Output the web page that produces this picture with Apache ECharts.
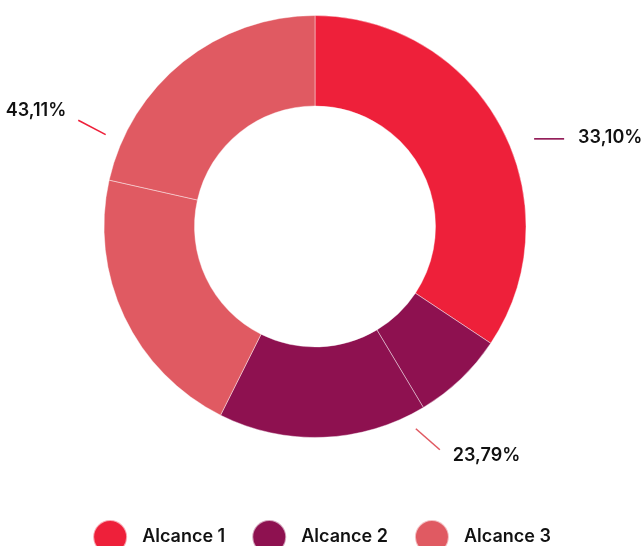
<!DOCTYPE html>
<html>
<head>
<meta charset="utf-8">
<script src="https://cdn.jsdelivr.net/npm/echarts@6/dist/echarts.min.js"></script>
<style>
html,body{margin:0;padding:0;background:#fff;}
#chart{width:643px;height:546px;}
</style>
</head>
<body>
<div id="chart"></div>
<script>
// ---- data ----
const categories = ['Alcance 1', 'Alcance 2', 'Alcance 3'];
const groupColors = ['#EE203A', '#8E1150', '#E05A62'];
const sliceGroups = [0, 1, 1, 2, 2];
const sliceValues = [34.33, 7.08, 15.97, 21.14, 21.47];
const labelValues = [33.10, 23.79, 43.11];
const labelSlices = [0, 2, 3];
const labelLineColors = ['#8E1150', '#E05A62', '#EE203A'];

// ---- layout ----
const CX = 315, CY = 226.5;
const FONT = 'Inter';
const labelPlace = [
  {angle: 68.2, r: 236, ex: 30, ey: 0, tx: 14, ty: -1.5, align: 'left'},
  {angle: 153.5, r: 226, ex: 24, ey: 21, tx: 13, ty: 6, align: 'left'},
  {angle: 293.7, r: 228.6, ex: -27.4, ey: -14.3, tx: -12, ty: -9.5, align: 'right'}
];

function fmt(v) { return v.toFixed(2).replace('.', ',') + '%'; }

const data = sliceValues.map(function (v, i) {
  const g = sliceGroups[i];
  const li = labelSlices.indexOf(i);
  const item = {
    name: categories[g],
    value: v,
    itemStyle: {color: groupColors[g]}
  };
  if (li >= 0) {
    item.label = {show: true, formatter: fmt(labelValues[li])};
    item.labelLine = {show: true, lineStyle: {color: labelLineColors[li], width: 1.6}};
  } else {
    item.label = {show: false};
    item.labelLine = {show: false};
  }
  return item;
});

const chart = echarts.init(document.getElementById('chart'), null, {renderer: 'canvas'});
chart.setOption({
  animation: false,
  backgroundColor: '#ffffff',
  legend: {
    data: categories,
    left: 'center',
    top: 514,
    icon: 'circle',
    itemWidth: 34,
    itemHeight: 34,
    itemGap: 26,
    textStyle: {fontFamily: FONT, fontSize: 18, fontWeight: 600, color: '#111', padding: [0, 0, 0, 10]}
  },
  series: [{
    type: 'pie',
    center: [CX, CY],
    radius: [120.5, 211],
    startAngle: 90,
    clockwise: true,
    avoidLabelOverlap: false,
    silent: true,
    itemStyle: {borderColor: 'rgba(255,255,255,0.6)', borderWidth: 0.7},
    label: {
      show: false,
      fontFamily: FONT,
      fontSize: 18,
      fontWeight: 600,
      color: '#111'
    },
    labelLine: {show: false},
    emphasis: {disabled: true},
    labelLayout: function (p) {
      const gi = labelSlices.indexOf(p.dataIndex);
      if (gi < 0) return {};
      const L = labelPlace[gi];
      const a = L.angle * Math.PI / 180;
      const x0 = CX + L.r * Math.sin(a), y0 = CY - L.r * Math.cos(a);
      const x1 = x0 + L.ex, y1 = y0 + L.ey;
      return {
        x: x1 + L.tx,
        y: y1 + L.ty,
        align: L.align,
        verticalAlign: 'middle',
        labelLinePoints: [[x0, y0], [x1, y1], [x1, y1]]
      };
    },
    data: data
  }]
});
</script>
</body>
</html>
